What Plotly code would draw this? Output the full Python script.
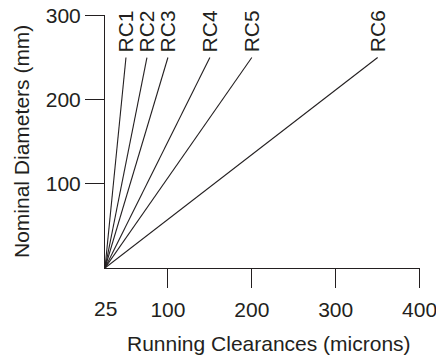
import plotly.graph_objects as go

# Running-clearance fits: each line runs from the origin to its clearance at 250 mm
fit_names = ["RC1", "RC2", "RC3", "RC4", "RC5", "RC6"]
clearance_end = [50, 75, 100, 150, 200, 350]   # microns at the upper end
diameter_end = 250                              # mm
origin_clearance = 25
origin_diameter = 0

x_ticks = [100, 200, 300, 400]
y_ticks = [100, 200, 300]

INK = "#231f20"
FONT = "Liberation Sans, Arial, Helvetica, sans-serif"
SIZE = 21

fig = go.Figure()
for name, xe in zip(fit_names, clearance_end):
    fig.add_trace(go.Scatter(
        x=[origin_clearance, xe], y=[origin_diameter, diameter_end],
        mode="lines", line=dict(color=INK, width=1.1), name=name,
        showlegend=False, hoverinfo="skip"))
    fig.add_annotation(
        x=xe, y=diameter_end, text=name, showarrow=False, textangle=-90,
        xanchor="center", yanchor="bottom", yshift=3,
        font=dict(family=FONT, size=SIZE, color=INK))

# label at the origin of the clearance axis (no tick mark there)
fig.add_annotation(
    x=origin_clearance, y=0, yref="paper", text=str(origin_clearance),
    showarrow=False, xanchor="center", yanchor="top", yshift=-27,
    font=dict(family=FONT, size=SIZE, color=INK))

fig.add_annotation(
    x=0.5, xref="paper", xshift=6, y=0, yref="paper", yshift=-62,
    text="Running Clearances (microns)", showarrow=False,
    xanchor="center", yanchor="top",
    font=dict(family=FONT, size=SIZE, color=INK))
fig.add_annotation(
    x=0, xref="paper", xshift=-97, y=0.5, yref="paper",
    text="Nominal Diameters (mm)", showarrow=False, textangle=-90,
    xanchor="left", yanchor="middle",
    font=dict(family=FONT, size=SIZE, color=INK))

axis_common = dict(
    showgrid=False, zeroline=False, showline=True, linecolor=INK, linewidth=1,
    ticks="outside", ticklen=19, tickcolor=INK, tickwidth=1,
    ticklabeloverflow="allow", automargin=False,
    tickfont=dict(family=FONT, size=SIZE, color=INK))

fig.update_xaxes(range=[origin_clearance, 400.5], tickvals=x_ticks,
                 ticklabelstandoff=4, **axis_common)
fig.update_yaxes(range=[0, 300.5], tickvals=y_ticks, **axis_common)

fig.update_layout(
    width=436, height=357,
    margin=dict(l=105, r=16, t=15, b=89, autoexpand=False),
    paper_bgcolor="white", plot_bgcolor="white",
    font=dict(family=FONT, color=INK))

fig.write_html("out.html")
